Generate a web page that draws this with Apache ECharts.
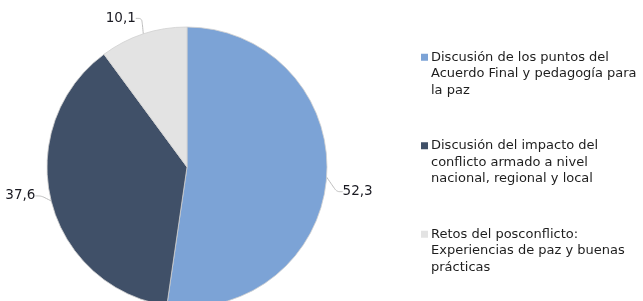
<!DOCTYPE html>
<html>
<head>
<meta charset="utf-8">
<script src="https://cdn.jsdelivr.net/npm/echarts@6/dist/echarts.min.js"></script>
<style>html,body{margin:0;padding:0;background:#fff}#c{width:643px;height:301px}</style>
</head>
<body>
<div id="c"></div>
<script>
const categories = [
  "Discusión de los puntos del\nAcuerdo Final y pedagogía para\nla paz",
  "Discusión del impacto del\nconflicto armado a nivel\nnacional, regional y local",
  "Retos del posconflicto:\nExperiencias de paz y buenas\nprácticas"
];
const values = [52.3, 37.6, 10.1];
const colors = ["#7ca3d6", "#405068", "#e3e3e3"];
// small label nudges (px) relative to the default label place
const labelNudge = [[0, 14], [0, -7], [3, -8]];

const chart = echarts.init(document.getElementById('c'), null, {renderer: 'canvas'});
const LH = 16.5;
chart.setOption({
  backgroundColor: '#ffffff',
  animation: false,
  color: colors,
  legend: {
    orient: 'vertical',
    left: 421,
    top: 49,
    padding: 0,
    itemWidth: 7,
    itemHeight: 40,
    itemGap: 39,
    icon: 'path://M0 0H7V7H0Z M0 40H0.01V40.01H0Z',
    itemStyle: {borderWidth: 0},
    textStyle: {fontFamily: 'DejaVu Sans', fontSize: 13, color: '#1e1e1e', lineHeight: LH, padding: [0,0,0,-2]},
    selectedMode: false,
    data: categories
  },
  series: [{
    type: 'pie',
    center: [187, 167],
    radius: 140,
    startAngle: 90,
    clockwise: true,
    itemStyle: {borderColor: '#d0d0d0', borderWidth: 0.8},
    label: {
      show: true,
      position: 'outside',
      overflow: 'none',
      fontFamily: 'DejaVu Sans',
      fontSize: 13.5,
      color: '#1a1a22',
      formatter: p => String(p.value).replace('.', ','),
      distanceToLabelLine: 2
    },
    labelLine: {show: true, length: 8, length2: 6, smooth: 0.3, lineStyle: {color: '#bdbdbd', width: 1}},
    labelLayout: p => ({
      x: p.labelRect.x + labelNudge[p.dataIndex][0],
      y: p.labelRect.y + labelNudge[p.dataIndex][1],
      align: 'left',
      verticalAlign: 'top'
    }),
    emphasis: {disabled: true},
    data: categories.map((n, i) => ({name: n, value: values[i]}))
  }]
});
</script>
</body>
</html>
